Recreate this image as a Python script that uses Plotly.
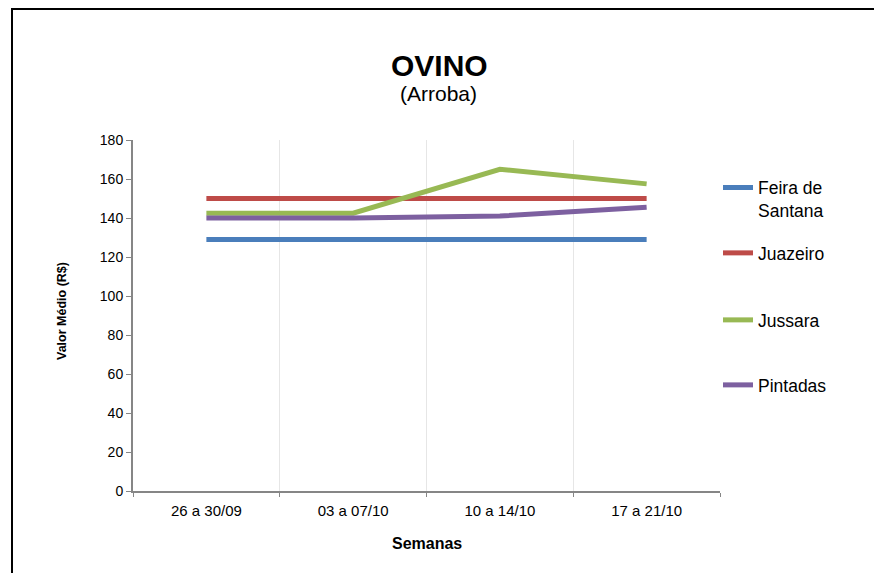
import plotly.graph_objects as go

semanas = ["26 a 30/09", "03 a 07/10", "10 a 14/10", "17 a 21/10"]
feira_de_santana = [129, 129, 129, 129]
juazeiro = [150, 150, 150, 150]
jussara = [142.5, 142.5, 165, 157.5]
pintadas = [140, 140, 141, 145.5]

series = [
    ("Feira de<br>Santana", feira_de_santana, "#4a7ebb"),
    ("Juazeiro", juazeiro, "#be4b48"),
    ("Jussara", jussara, "#98b954"),
    ("Pintadas", pintadas, "#7d60a0"),
]

OFF = 8  # page body margin
W, H = 882 - OFF, 573 - OFF
# plot area in page pixels: x 133..720, y 140..491
PL, PR, PT, PB = 133, 720, 140, 491
L = PL - OFF
T = PT - OFF
pw = PR - PL
ph = PB - PT
R = W - L - pw
B = H - T - ph

def px_x(px):
    return (px - PL) / pw

def px_y(py):
    return (PB - py) / ph

legend_names = ["legend", "legend2", "legend3", "legend4"]
legend_y = [199, 253, 320, 385]

fig = go.Figure()
for i, (name, vals, col) in enumerate(series):
    fig.add_trace(go.Scatter(
        x=semanas, y=vals, name=name, mode="lines",
        line=dict(color=col, width=5), legend=legend_names[i],
    ))

legend_layout = {}
for i, ln in enumerate(legend_names):
    legend_layout[ln] = dict(
        x=px_x(718), y=px_y(legend_y[i]), xanchor="left", yanchor="middle",
        font=dict(size=17.5, color="#000000"),
        bgcolor="rgba(0,0,0,0)", valign="top",
    )

fig.update_layout(
    width=W, height=H,
    margin=dict(l=L, r=R, t=T, b=B, pad=0),
    paper_bgcolor="white", plot_bgcolor="white",
    font=dict(family="Liberation Sans, Arial, sans-serif", size=13, color="#000000"),
    showlegend=True,
    xaxis=dict(
        type="category", range=[-0.5, 3.5], tickson="boundaries",
        showgrid=True, gridcolor="#e6e6e6", gridwidth=1,
        showline=True, linecolor="#868686", linewidth=2,
        ticks="outside", ticklen=4, tickcolor="#868686",
        tickfont=dict(size=15), zeroline=False, ticklabelstandoff=5,
    ),
    yaxis=dict(
        range=[0, 180], dtick=20, showgrid=False,
        showline=True, linecolor="#868686", linewidth=2,
        ticks="outside", ticklen=5, tickcolor="#868686",
        tickfont=dict(size=14), zeroline=False,
    ),
    annotations=[
        dict(text="<b>OVINO</b>", x=px_x(439), y=px_y(65), xref="paper", yref="paper",
             showarrow=False, font=dict(size=30), xanchor="center", yanchor="middle"),
        dict(text="(Arroba)", x=px_x(438), y=px_y(93), xref="paper", yref="paper",
             showarrow=False, font=dict(size=21), xanchor="center", yanchor="middle"),
        dict(text="<b>Valor Médio (R$)</b>", x=px_x(62), y=px_y(311), xref="paper", yref="paper",
             showarrow=False, textangle=-90, font=dict(size=12.5),
             xanchor="center", yanchor="middle"),
        dict(text="<b>Semanas</b>", x=px_x(427), y=px_y(543), xref="paper", yref="paper",
             showarrow=False, font=dict(size=16), xanchor="center", yanchor="middle"),
    ],
    shapes=[
        dict(type="rect", xref="paper", yref="paper",
             x0=px_x(12), x1=px_x(895), y0=px_y(600), y1=px_y(9),
             line=dict(color="black", width=2), fillcolor="rgba(0,0,0,0)", layer="below"),
    ],
    **legend_layout,
)

fig.write_html("out.html")
